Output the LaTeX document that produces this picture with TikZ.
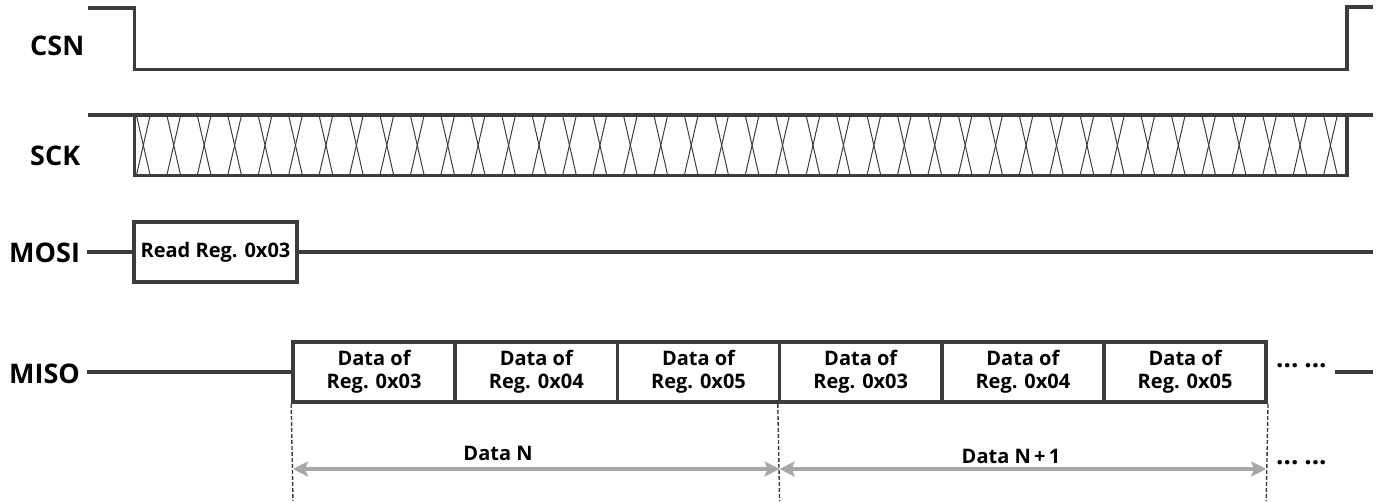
\documentclass[tikz,border=0pt]{standalone}
\usepackage{fontspec}
\setmainfont{Open Sans}
\usetikzlibrary{arrows.meta}
\definecolor{ln}{HTML}{3C3C3C}
\definecolor{arr}{HTML}{A6A6A6}
\tikzset{
  sig/.style={draw=ln, line width=3.6pt, line join=miter},
  xline/.style={draw=ln, line width=1pt},
  lbl/.style={font=\fontsize{27}{30}\selectfont\bfseries, anchor=west, inner sep=0pt},
  regbox/.style={draw=ln, line width=3.6pt, minimum width=162.2pt, minimum height=60pt, inner sep=0pt, align=center, font=\fontsize{20}{23}\selectfont\bfseries},
  guide/.style={draw=ln, line width=1.4pt, dash pattern=on 4pt off 2pt},
  span/.style={draw=arr, line width=3.6pt, {Stealth[length=15pt,width=15pt,inset=3pt]}-{Stealth[length=15pt,width=15pt,inset=3pt]}},
  note/.style={font=\fontsize{20}{23}\selectfont\bfseries, inner sep=0pt},
  dots/.style={font=\fontsize{26}{28}\selectfont\bfseries, inner sep=0pt}
}
\begin{document}
\begin{tikzpicture}[x=1pt, y=-1pt]
\useasboundingbox (0,0) rectangle (1379,501);
% labels
\node[lbl] (csn) at (30,46) {CSN};
\node[lbl] (sck) at (30,156) {SCK};
\node[lbl] (mosi) at (9,252.5) {MOSI};
\node[lbl] (miso) at (9,374) {MISO};
% CSN
\coordinate (c0) at (88,8);
\coordinate (c1) at (1373,7);
\draw[sig] (c0) -- (134.5,8) -- (134.5,69.5) -- (1347,69.5) -- (1347,7) -- (c1);
% SCK
\coordinate (s0) at (88,115);
\coordinate (s1) at (1373,115);
\draw[sig] (s0) -- (s1);
\draw[sig] (134.5,115) -- (134.5,175.5) -- (1347,175.5) -- (1347,115);
\foreach \i in {0,...,39} {
  \pgfmathsetmacro{\cx}{143.3+\i*30.44}
  \draw[xline] (\cx-6.6,116.5) -- (\cx+6.6,174);
  \draw[xline] (\cx+6.6,116.5) -- (\cx-6.6,174);
}
% MOSI
\node[regbox, minimum width=162.5pt] (rd) at (215.5,252) {Read Reg. 0x03};
\coordinate (m0) at (87,252);
\coordinate (m1) at (1373,252);
\draw[sig] (m0) -- (rd.west);
\draw[sig] (rd.east) -- (m1);
% MISO
\coordinate (i0) at (87,372);
\node[regbox] (b1) at (374.1,372) {Data of\\Reg. 0x03};
\node[regbox] (b2) at (536.3,372) {Data of\\Reg. 0x04};
\node[regbox] (b3) at (698.5,372) {Data of\\Reg. 0x05};
\node[regbox] (b4) at (860.7,372) {Data of\\Reg. 0x03};
\node[regbox] (b5) at (1022.9,372) {Data of\\Reg. 0x04};
\node[regbox] (b6) at (1185.1,372) {Data of\\Reg. 0x05};
\draw[sig] (i0) -- (b1.west);
\node[dots, anchor=west] (d1) at (1276,366) {...\hspace{6pt}...};
\coordinate (i1a) at (1335,372);
\coordinate (i1b) at (1373,372);
\draw[sig] (i1a) -- (i1b);
% guides
\coordinate (g1) at (293,501);
\coordinate (g2) at (779.6,501);
\coordinate (g3) at (1266.2,501);
\draw[guide] (b1.south west) -- (g1);
\draw[guide] (b4.south west) -- (g2);
\draw[guide] (b6.south east) -- (g3);
% spans
\coordinate (a1) at (293,469);
\coordinate (a2) at (779.6,469);
\coordinate (a3) at (1266.2,469);
\draw[span] (a1) -- (a2);
\draw[span] (a2) -- (a3);
\node[note] (dn) at (498,453.5) {Data N};
\node[note] (dn1) at (1011,456.5) {Data N\,+\,1};
\node[dots, anchor=west] (d2) at (1276,463) {...\hspace{6pt}...};
\end{tikzpicture}
\end{document}
